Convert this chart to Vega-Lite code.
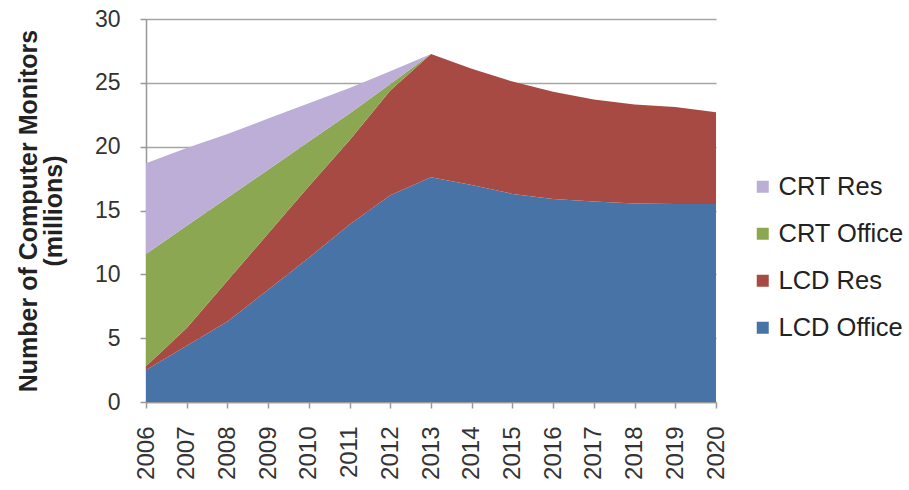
{
  "$schema": "https://vega.github.io/schema/vega-lite/v6.json",
  "width": 570,
  "height": 383,
  "autosize": {"type": "none"},
  "padding": {"left": 146, "top": 19, "right": 193, "bottom": 88},
  "background": "white",
  "config": {
    "view": {"stroke": null},
    "font": "Liberation Sans"
  },
  "data": {
    "values": [
      {"year": "2006", "series": "LCD Office", "k": 1, "value": 2.5},
      {"year": "2007", "series": "LCD Office", "k": 1, "value": 4.4},
      {"year": "2008", "series": "LCD Office", "k": 1, "value": 6.3},
      {"year": "2009", "series": "LCD Office", "k": 1, "value": 8.8},
      {"year": "2010", "series": "LCD Office", "k": 1, "value": 11.3},
      {"year": "2011", "series": "LCD Office", "k": 1, "value": 13.9},
      {"year": "2012", "series": "LCD Office", "k": 1, "value": 16.2},
      {"year": "2013", "series": "LCD Office", "k": 1, "value": 17.6},
      {"year": "2014", "series": "LCD Office", "k": 1, "value": 17.0},
      {"year": "2015", "series": "LCD Office", "k": 1, "value": 16.3},
      {"year": "2016", "series": "LCD Office", "k": 1, "value": 15.9},
      {"year": "2017", "series": "LCD Office", "k": 1, "value": 15.7},
      {"year": "2018", "series": "LCD Office", "k": 1, "value": 15.55},
      {"year": "2019", "series": "LCD Office", "k": 1, "value": 15.5},
      {"year": "2020", "series": "LCD Office", "k": 1, "value": 15.5},
      {"year": "2006", "series": "LCD Res", "k": 2, "value": 0.3},
      {"year": "2007", "series": "LCD Res", "k": 2, "value": 1.4},
      {"year": "2008", "series": "LCD Res", "k": 2, "value": 3.2},
      {"year": "2009", "series": "LCD Res", "k": 2, "value": 4.4},
      {"year": "2010", "series": "LCD Res", "k": 2, "value": 5.6},
      {"year": "2011", "series": "LCD Res", "k": 2, "value": 6.6},
      {"year": "2012", "series": "LCD Res", "k": 2, "value": 8.2},
      {"year": "2013", "series": "LCD Res", "k": 2, "value": 9.65},
      {"year": "2014", "series": "LCD Res", "k": 2, "value": 9.1},
      {"year": "2015", "series": "LCD Res", "k": 2, "value": 8.8},
      {"year": "2016", "series": "LCD Res", "k": 2, "value": 8.4},
      {"year": "2017", "series": "LCD Res", "k": 2, "value": 8.0},
      {"year": "2018", "series": "LCD Res", "k": 2, "value": 7.75},
      {"year": "2019", "series": "LCD Res", "k": 2, "value": 7.6},
      {"year": "2020", "series": "LCD Res", "k": 2, "value": 7.2},
      {"year": "2006", "series": "CRT Office", "k": 3, "value": 8.8},
      {"year": "2007", "series": "CRT Office", "k": 3, "value": 8.0},
      {"year": "2008", "series": "CRT Office", "k": 3, "value": 6.5},
      {"year": "2009", "series": "CRT Office", "k": 3, "value": 5.0},
      {"year": "2010", "series": "CRT Office", "k": 3, "value": 3.5},
      {"year": "2011", "series": "CRT Office", "k": 3, "value": 2.1},
      {"year": "2012", "series": "CRT Office", "k": 3, "value": 0.5},
      {"year": "2013", "series": "CRT Office", "k": 3, "value": 0},
      {"year": "2014", "series": "CRT Office", "k": 3, "value": 0},
      {"year": "2015", "series": "CRT Office", "k": 3, "value": 0},
      {"year": "2016", "series": "CRT Office", "k": 3, "value": 0},
      {"year": "2017", "series": "CRT Office", "k": 3, "value": 0},
      {"year": "2018", "series": "CRT Office", "k": 3, "value": 0},
      {"year": "2019", "series": "CRT Office", "k": 3, "value": 0},
      {"year": "2020", "series": "CRT Office", "k": 3, "value": 0},
      {"year": "2006", "series": "CRT Res", "k": 4, "value": 7.1},
      {"year": "2007", "series": "CRT Res", "k": 4, "value": 6.1},
      {"year": "2008", "series": "CRT Res", "k": 4, "value": 5.0},
      {"year": "2009", "series": "CRT Res", "k": 4, "value": 4.0},
      {"year": "2010", "series": "CRT Res", "k": 4, "value": 3.0},
      {"year": "2011", "series": "CRT Res", "k": 4, "value": 2.0},
      {"year": "2012", "series": "CRT Res", "k": 4, "value": 1.0},
      {"year": "2013", "series": "CRT Res", "k": 4, "value": 0},
      {"year": "2014", "series": "CRT Res", "k": 4, "value": 0},
      {"year": "2015", "series": "CRT Res", "k": 4, "value": 0},
      {"year": "2016", "series": "CRT Res", "k": 4, "value": 0},
      {"year": "2017", "series": "CRT Res", "k": 4, "value": 0},
      {"year": "2018", "series": "CRT Res", "k": 4, "value": 0},
      {"year": "2019", "series": "CRT Res", "k": 4, "value": 0},
      {"year": "2020", "series": "CRT Res", "k": 4, "value": 0}
    ]
  },
  "mark": {"type": "area", "interpolate": "linear", "opacity": 1},
  "encoding": {
    "x": {
      "field": "year",
      "type": "ordinal",
      "scale": {"type": "point", "padding": 0},
      "axis": {
        "title": null,
        "labelAngle": 270,
        "labelAlign": "right",
        "labelBaseline": "middle",
        "labelFontSize": 24,
        "labelColor": "#333333",
        "labelPadding": 18,
        "tickSize": 6,
        "tickColor": "#999999",
        "tickWidth": 1.5,
        "domainColor": "#999999",
        "domainWidth": 1.5,
        "grid": false
      }
    },
    "y": {
      "field": "value",
      "type": "quantitative",
      "stack": "zero",
      "scale": {"domain": [0, 30], "nice": false},
      "axis": {
        "values": [0, 5, 10, 15, 20, 25, 30],
        "title": ["Number of Computer Monitors", "(millions)"],
        "titleFontSize": 25,
        "titleFontWeight": "bold",
        "titleColor": "#222222",
        "titleAngle": 270,
        "titleBaseline": "alphabetic",
        "titleLineHeight": 25,
        "titleX": -110,
        "labelFontSize": 23,
        "labelColor": "#333333",
        "labelPadding": 20,
        "tickSize": 6,
        "tickColor": "#999999",
        "tickWidth": 1.5,
        "domainColor": "#999999",
        "domainWidth": 1.5,
        "grid": true,
        "gridColor": "#a6a6a6",
        "gridWidth": 1.5
      }
    },
    "color": {
      "field": "series",
      "type": "nominal",
      "scale": {
        "domain": ["CRT Res", "CRT Office", "LCD Res", "LCD Office"],
        "range": ["#bcaed6", "#8ca751", "#a74a43", "#4873a6"]
      },
      "legend": {
        "title": null,
        "orient": "none",
        "legendX": 604,
        "legendY": 155,
        "padding": 0,
        "symbolType": "square",
        "symbolSize": 144,
        "symbolStrokeWidth": 0,
        "symbolOpacity": 1,
        "labelFontSize": 25.5,
        "labelColor": "#222222",
        "labelOffset": 3,
        "rowPadding": 20
      }
    },
    "order": {"field": "k", "type": "quantitative", "sort": "ascending"}
  }
}
